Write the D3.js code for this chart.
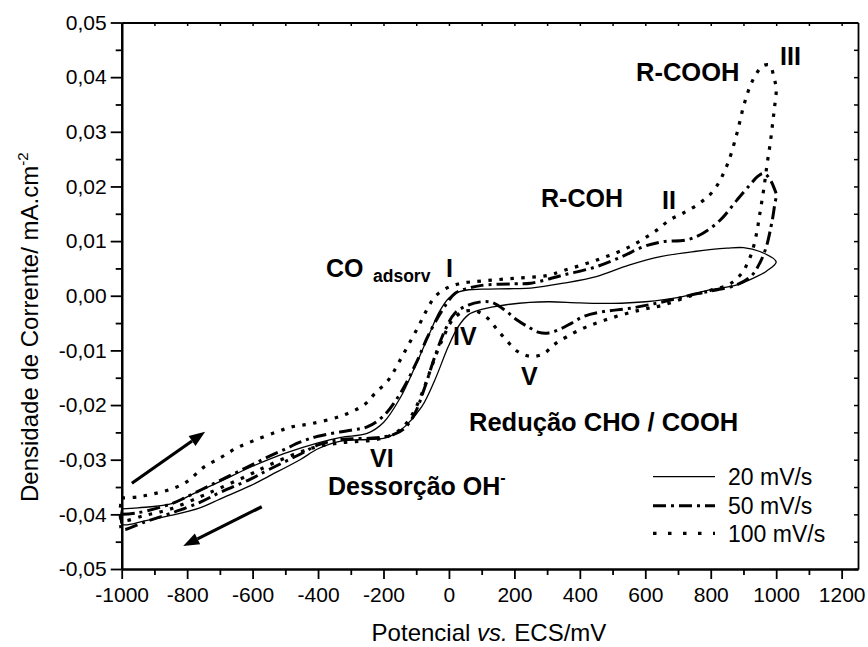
<!DOCTYPE html>
<html>
<head>
<meta charset="utf-8">
<script src="https://cdn.jsdelivr.net/npm/d3@7"></script>
<style>
  html, body { margin: 0; padding: 0; background: #fff; }
  svg { display: block; font-family: "Liberation Sans", Arial, sans-serif; }
</style>
</head>
<body>
<svg id="chart" width="868" height="647"></svg>
<script>
// Cyclic voltammograms at three scan rates (potential in mV vs. ECS, current density in mA.cm-2)
const scanRates = ["20 mV/s", "50 mV/s", "100 mV/s"];

// 20 mV/s, anodic sweep
const fwdPotential20 = [-1000, -950, -850, -780, -700, -600, -500, -400, -330, -250, -200, -150, -100, -60, -30, 0, 30, 60, 100, 200, 250, 350, 450, 550, 650, 750, 850, 900, 950, 1000];
const fwdCurrent20 = [-0.0390, -0.0388, -0.0381, -0.0362, -0.0340, -0.0312, -0.0288, -0.0269, -0.0259, -0.0252, -0.0232, -0.0188, -0.0125, -0.0070, -0.0030, -0.0004, 0.0007, 0.0011, 0.0012, 0.0013, 0.0014, 0.0023, 0.0035, 0.0056, 0.0072, 0.0081, 0.0087, 0.0088, 0.0081, 0.0062];
// 20 mV/s, cathodic sweep
const retPotential20 = [1000, 970, 940, 880, 800, 710, 600, 500, 400, 308, 247, 180, 130, 100, 59, 28, -2, -43, -83, -134, -170, -200, -250, -330, -400, -455, -550, -608, -700, -761, -850, -930, -1000];
const retCurrent20 = [0.0062, 0.0045, 0.0035, 0.0020, 0.0011, -0.0002, -0.0011, -0.0014, -0.0013, -0.0011, -0.0012, -0.0016, -0.0021, -0.0025, -0.0035, -0.0057, -0.0093, -0.0154, -0.0203, -0.0239, -0.0254, -0.0261, -0.0263, -0.0266, -0.0280, -0.0300, -0.0330, -0.0348, -0.0372, -0.0388, -0.0402, -0.0412, -0.0418];

// 50 mV/s, anodic sweep
const fwdPotential50 = [-1000, -950, -850, -808, -757, -706, -655, -604, -553, -502, -455, -400, -300, -250, -200, -150, -100, -65, -20, 20, 60, 100, 200, 250, 350, 450, 530, 595, 655, 725, 775, 830, 880, 920, 945, 962, 980, 995, 1000];
const fwdCurrent50 = [-0.0400, -0.0397, -0.0381, -0.0370, -0.0355, -0.0340, -0.0325, -0.0310, -0.0295, -0.0281, -0.0268, -0.0257, -0.0246, -0.0240, -0.0220, -0.0180, -0.0123, -0.0075, -0.0026, 0.0005, 0.0014, 0.0019, 0.0022, 0.0023, 0.0038, 0.0053, 0.0072, 0.0090, 0.0099, 0.0102, 0.0114, 0.0139, 0.0175, 0.0203, 0.0219, 0.0224, 0.0214, 0.0195, 0.0185];
// 50 mV/s, cathodic sweep
const retPotential50 = [1000, 995, 990, 984, 970, 950, 925, 880, 820, 760, 655, 553, 472, 411, 375, 340, 305, 275, 245, 207, 170, 130, 100, 59, 18, -12, -43, -73, -104, -135, -170, -220, -330, -400, -455, -550, -608, -700, -761, -850, -930, -1000];
const retCurrent50 = [0.0185, 0.0165, 0.0145, 0.0126, 0.0090, 0.0060, 0.0037, 0.0020, 0.0011, 0.0004, -0.0011, -0.0023, -0.0029, -0.0038, -0.0050, -0.0061, -0.0068, -0.0067, -0.0058, -0.0044, -0.0026, -0.0012, -0.0011, -0.0017, -0.0032, -0.0063, -0.0111, -0.0166, -0.0215, -0.0242, -0.0254, -0.0260, -0.0263, -0.0273, -0.0290, -0.0318, -0.0336, -0.0360, -0.0378, -0.0398, -0.0414, -0.0427];

// 100 mV/s, anodic sweep
const fwdPotential100 = [-1000, -950, -900, -850, -800, -750, -700, -650, -600, -530, -480, -420, -330, -260, -225, -185, -155, -124, -94, -68, -43, -7, 39, 100, 200, 300, 350, 450, 550, 635, 675, 715, 765, 808, 848, 880, 900, 920, 940, 960, 980, 993, 1000];
const fwdCurrent100 = [-0.0370, -0.0368, -0.0362, -0.0354, -0.0340, -0.0314, -0.0297, -0.0279, -0.0266, -0.0250, -0.0240, -0.0234, -0.0220, -0.0200, -0.0178, -0.0154, -0.0124, -0.0090, -0.0057, -0.0026, -0.0002, 0.0014, 0.0023, 0.0027, 0.0032, 0.0037, 0.0046, 0.0065, 0.0089, 0.0120, 0.0139, 0.0151, 0.0169, 0.0192, 0.0236, 0.0297, 0.0346, 0.0383, 0.0407, 0.0421, 0.0422, 0.0400, 0.0378];
// 100 mV/s, cathodic sweep
const retPotential100 = [1000, 995, 990, 982, 972, 962, 950, 940, 925, 910, 900, 860, 800, 740, 655, 585, 500, 420, 360, 320, 290, 250, 210, 175, 145, 120, 95, 70, 40, 10, -20, -50, -80, -110, -140, -180, -230, -330, -400, -455, -550, -608, -700, -761, -850, -930, -1000];
const retCurrent100 = [0.0378, 0.0345, 0.0320, 0.0280, 0.0240, 0.0195, 0.0150, 0.0114, 0.0078, 0.0057, 0.0045, 0.0022, 0.0010, 0.0000, -0.0017, -0.0026, -0.0040, -0.0057, -0.0075, -0.0090, -0.0106, -0.0111, -0.0102, -0.0081, -0.0060, -0.0042, -0.0031, -0.0027, -0.0030, -0.0045, -0.0080, -0.0125, -0.0175, -0.0215, -0.0240, -0.0256, -0.0264, -0.0269, -0.0276, -0.0286, -0.0310, -0.0327, -0.0352, -0.0368, -0.0390, -0.0402, -0.0410];

// Axis ticks
const xTicks = [-1000, -800, -600, -400, -200, 0, 200, 400, 600, 800, 1000, 1200];
const xMinorTicks = [-900, -700, -500, -300, -100, 100, 300, 500, 700, 900, 1100];
const yTicks = [-0.05, -0.04, -0.03, -0.02, -0.01, 0, 0.01, 0.02, 0.03, 0.04, 0.05];
const yMinorTicks = [-0.045, -0.035, -0.025, -0.015, -0.005, 0.005, 0.015, 0.025, 0.035, 0.045];

const svg = d3.select("#chart");
const plotLeft = 121.7, plotRight = 858, plotTop = 22.5, plotBottom = 569;

const x = d3.scaleLinear().domain([-1000, 1250]).range([plotLeft, plotRight]);
const y = d3.scaleLinear().domain([-0.05, 0.05]).range([plotBottom, plotTop]);

const fmtY = d3.formatLocale({ decimal: ",", thousands: ".", grouping: [3], currency: ["", ""], minus: "-" }).format(".2f");
const fmtX = d3.formatLocale({ decimal: ",", thousands: "", grouping: [3], currency: ["", ""], minus: "-" }).format("d");

// Curves
const styles = [
  { width: 1.3, dash: null },
  { width: 3, dash: "13 5 3 5" },
  { width: 3.2, dash: "3.5 7.5" }
];
const branches = [
  [fwdPotential20, fwdCurrent20, retPotential20, retCurrent20],
  [fwdPotential50, fwdCurrent50, retPotential50, retCurrent50],
  [fwdPotential100, fwdCurrent100, retPotential100, retCurrent100]
];

const line = d3.line().x(d => x(d[0])).y(d => y(d[1])).curve(d3.curveCatmullRom.alpha(0.5));

branches.forEach((b, i) => {
  const pts = b[0].map((v, k) => [v, b[1][k]])
    .concat(b[2].map((v, k) => [v, b[3][k]]).slice(1));
  pts.push(pts[0]);
  svg.append("path")
    .attr("d", line(pts))
    .attr("fill", "none")
    .attr("stroke", "#000")
    .attr("stroke-width", styles[i].width)
    .attr("stroke-dasharray", styles[i].dash)
    .attr("stroke-linejoin", "round");
});

// Axes
const gLeft = svg.append("g").attr("transform", `translate(${plotLeft},0)`)
  .call(d3.axisLeft(y).tickValues(yTicks).tickSize(11).tickSizeOuter(0).tickPadding(4).tickFormat(fmtY));
const gLeftMinor = svg.append("g").attr("transform", `translate(${plotLeft},0)`)
  .call(d3.axisLeft(y).tickValues(yMinorTicks).tickSize(6).tickSizeOuter(0).tickFormat(""));
const gBottom = svg.append("g").attr("transform", `translate(0,${plotBottom})`)
  .call(d3.axisBottom(x).tickValues(xTicks).tickSize(10).tickSizeOuter(0).tickPadding(8).tickFormat(fmtX));
const gBottomMinor = svg.append("g").attr("transform", `translate(0,${plotBottom})`)
  .call(d3.axisBottom(x).tickValues(xMinorTicks).tickSize(6).tickSizeOuter(0).tickFormat(""));
const gTop = svg.append("g").attr("transform", `translate(0,${plotTop})`)
  .call(d3.axisBottom(x).tickValues(xTicks.concat(xMinorTicks)).tickSize(3.5).tickSizeOuter(0).tickFormat(""));
const gRight = svg.append("g").attr("transform", `translate(${plotRight},0)`)
  .call(d3.axisLeft(y).tickValues(yTicks.concat(yMinorTicks)).tickSize(4).tickSizeOuter(0).tickFormat(""));

[gLeft, gLeftMinor, gBottom, gBottomMinor].forEach(g => {
  g.selectAll(".tick line").attr("stroke", "#000").attr("stroke-width", 1.8);
  g.select(".domain").attr("stroke", "#000").attr("stroke-width", 2.2);
});
[gTop, gRight].forEach(g => {
  g.selectAll(".tick line").attr("stroke", "#000").attr("stroke-width", 1.5);
  g.select(".domain").attr("stroke", "#000").attr("stroke-width", 1.8);
});
[gLeft, gBottom].forEach(g => {
  g.selectAll(".tick text").attr("fill", "#000")
    .style("font-size", "21px").style("font-family", "'Liberation Sans', Arial, sans-serif");
});

// Axis titles
svg.append("text")
  .attr("x", 489).attr("y", 641)
  .attr("text-anchor", "middle")
  .style("font-size", "24px")
  .html('Potencial <tspan font-style="italic">vs.</tspan> ECS/mV');

const yTitle = svg.append("text")
  .attr("transform", "translate(38,502) rotate(-90)")
  .style("font-size", "24px");
yTitle.append("tspan").text("Densidade de Corrente/ mA.cm");
yTitle.append("tspan").attr("dy", -10).style("font-size", "15px").text("-2");

// Legend
const legendRows = [476.7, 505.7, 533.3];
scanRates.forEach((name, i) => {
  svg.append("line")
    .attr("x1", 653).attr("x2", 715)
    .attr("y1", legendRows[i]).attr("y2", legendRows[i])
    .attr("stroke", "#000")
    .attr("stroke-width", styles[i].width)
    .attr("stroke-dasharray", i === 2 ? "3.5 11.5" : styles[i].dash);
  svg.append("text")
    .attr("x", 728).attr("y", legendRows[i] + 8.5)
    .style("font-size", "23px")
    .text(name);
});

// Peak labels
const labels = [
  { t: "CO", x: 326, y: 277, s: 25 },
  { t: "adsorv", x: 373, y: 282, s: 17.5 },
  { t: "I", x: 446, y: 276.5, s: 25 },
  { t: "IV", x: 453, y: 345, s: 25 },
  { t: "V", x: 521, y: 385, s: 25 },
  { t: "VI", x: 370, y: 466.5, s: 25 },
  { t: "Redução CHO / COOH", x: 469, y: 431, s: 25.5 },
  { t: "R-COH", x: 541, y: 207, s: 25 },
  { t: "II", x: 662, y: 209, s: 25 },
  { t: "R-COOH", x: 636, y: 81, s: 25.5 },
  { t: "III", x: 780, y: 65, s: 25 }
];
labels.forEach(l => {
  svg.append("text").attr("x", l.x).attr("y", l.y)
    .style("font-size", l.s + "px").style("font-weight", "bold").text(l.t);
});
const des = svg.append("text").attr("x", 328).attr("y", 495)
  .style("font-size", "25px").style("font-weight", "bold");
des.append("tspan").text("Dessorção OH");
des.append("tspan").attr("dy", -12).style("font-size", "16px").text("-");

// Sweep direction arrows
const arrows = [
  { from: [-969, -0.0343], to: [-745, -0.0249] },
  { from: [-572, -0.0386], to: [-812, -0.0458] }
];
arrows.forEach(a => {
  const x1 = x(a.from[0]), y1 = y(a.from[1]), x2 = x(a.to[0]), y2 = y(a.to[1]);
  const ang = Math.atan2(y2 - y1, x2 - x1);
  const hl = 16, hw = 6;
  const bx = x2 - hl * Math.cos(ang), by = y2 - hl * Math.sin(ang);
  svg.append("line").attr("x1", x1).attr("y1", y1).attr("x2", bx).attr("y2", by)
    .attr("stroke", "#000").attr("stroke-width", 3.2);
  svg.append("path")
    .attr("d", `M${x2},${y2}L${bx - hw * Math.sin(ang)},${by + hw * Math.cos(ang)}L${bx + hw * Math.sin(ang)},${by - hw * Math.cos(ang)}Z`)
    .attr("fill", "#000");
});
</script>
</body>
</html>
